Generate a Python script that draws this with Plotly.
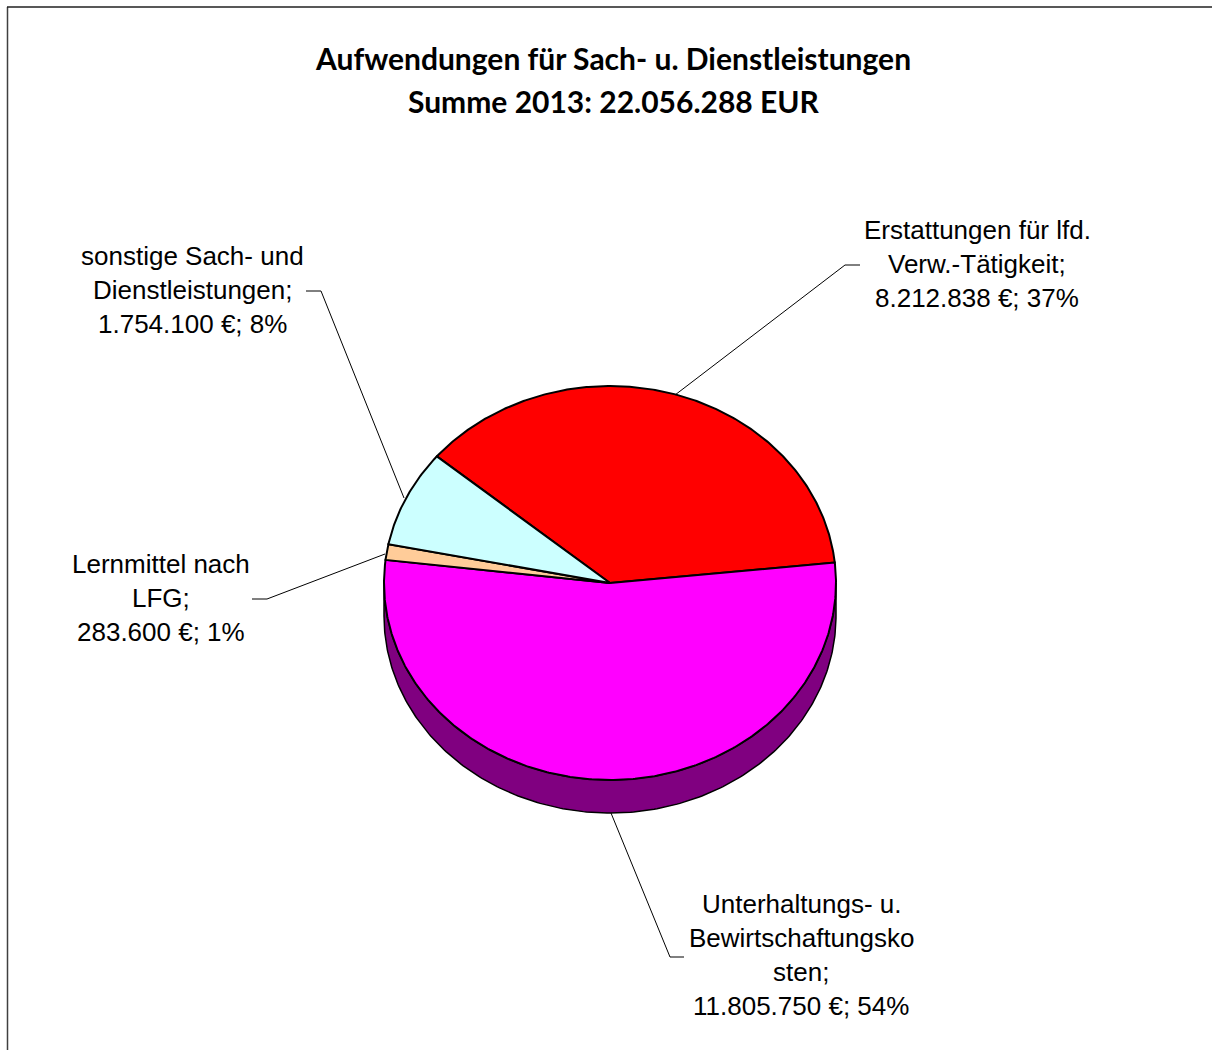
import math
import plotly.graph_objects as go

# ---- data ----
categories = ["Erstattungen für lfd. Verw.-Tätigkeit", "Unterhaltungs- u. Bewirtschaftungskosten",
              "Lernmittel nach LFG", "sonstige Sach- und Dienstleistungen"]
values = [8212838, 11805750, 283600, 1754100]
colors = ["#FF0000", "#FF00FF", "#FFCC99", "#CCFFFF"]
side_color = "#800080"
start_angle = 140.0          # degrees, counter-clockwise from east; slices run clockwise
title_lines = ["Aufwendungen für Sach- u. Dienstleistungen", "Summe 2013: 22.056.288 EUR"]
label_lines = [
    ["Erstattungen für lfd.", "Verw.-Tätigkeit;", "8.212.838 €; 37%"],
    ["Unterhaltungs- u.", "Bewirtschaftungsko", "sten;", "11.805.750 €; 54%"],
    ["Lernmittel nach", "LFG;", "283.600 €; 1%"],
    ["sonstige Sach- und", "Dienstleistungen;", "1.754.100 €; 8%"],
]

# ---- layout (pixels) ----
W, H = 1212, 1050
CX, CY, RX, RY, DEPTH = 610, 583, 226, 197, 33
label_pos = [(977, 230), (801, 904), (161, 564), (192, 256)]
line_step = 34
title_pos = [(613, 58), (614, 101)]
leaders = [
    [(860, 265), (845, 265), (675, 395)],
    [(684, 957), (670, 957), (611, 813)],
    [(252, 599), (267, 599), (385, 554)],
    [(306, 291), (321, 291), (404, 498)],
]


def px(x):
    return x / W


def py(y):
    return 1 - y / H


def arc(a0, a1, n=240):
    pts = [a0 + (a1 - a0) * i / n for i in range(n + 1)]
    return [math.cos(math.radians(a)) for a in pts], [math.sin(math.radians(a)) for a in pts]


fig = go.Figure()

# side wall of the disc (front half, shifted down by the depth)
d = DEPTH / RY
ax, ay = arc(180, 360)
fig.add_trace(go.Scatter(
    x=ax + ax[::-1] + [ax[0]],
    y=[v - d for v in ay] + ay[::-1] + [ay[0] - d],
    mode="lines", fill="toself", fillcolor=side_color,
    line=dict(color="black", width=1.5), hoverinfo="skip", showlegend=False))

# slices
total = sum(values)
angle = start_angle
for name, val, col in zip(categories, values, colors):
    sweep = 360 * val / total
    sx, sy = arc(angle, angle - sweep, max(8, int(sweep * 2)))
    fig.add_trace(go.Scatter(
        x=[0] + sx + [0], y=[0] + sy + [0],
        mode="lines", fill="toself", fillcolor=col, name=name,
        line=dict(color="black", width=2), showlegend=False,
        text=f"{name}: {val:,}".replace(",", "."), hoverinfo="text"))
    angle -= sweep

annotations = []
for (x, y0), lines in zip(label_pos, label_lines):
    for i, line in enumerate(lines):
        annotations.append(dict(
            x=px(x), y=py(y0 + i * line_step), xref="paper", yref="paper",
            text=line, showarrow=False, xanchor="center", yanchor="middle",
            font=dict(family="Liberation Sans", size=26, color="black")))
for (x, y), line in zip(title_pos, title_lines):
    annotations.append(dict(
        x=px(x), y=py(y), xref="paper", yref="paper",
        text=f"<b>{line}</b>", showarrow=False, xanchor="center", yanchor="middle",
        font=dict(family="Lato", size=30, color="black")))

shapes = []
for pts in leaders:
    for (x0, y0), (x1, y1) in zip(pts, pts[1:]):
        shapes.append(dict(type="line", xref="paper", yref="paper",
                           x0=px(x0), y0=py(y0), x1=px(x1), y1=py(y1),
                           line=dict(color="black", width=1)))
# chart frame (right and bottom edges run off the picture)
shapes.append(dict(type="line", xref="paper", yref="paper", x0=px(7.5), y0=py(7), x1=px(7.5), y1=0,
                   line=dict(color="#404040", width=1.5)))
shapes.append(dict(type="line", xref="paper", yref="paper", x0=px(7), y0=py(7), x1=1, y1=py(7),
                   line=dict(color="#202020", width=1.5)))

fig.update_layout(
    width=W, height=H, autosize=False,
    margin=dict(l=0, r=0, t=0, b=0),
    paper_bgcolor="white", plot_bgcolor="white",
    xaxis=dict(range=[-CX / RX, (W - CX) / RX], visible=False, fixedrange=True),
    yaxis=dict(range=[(CY - H) / RY, CY / RY], visible=False, fixedrange=True),
    annotations=annotations, shapes=shapes, showlegend=False)

fig.write_html("out.html", config=dict(displayModeBar=False),
               post_script="document.body.style.margin='0';document.body.style.overflow='hidden';")
